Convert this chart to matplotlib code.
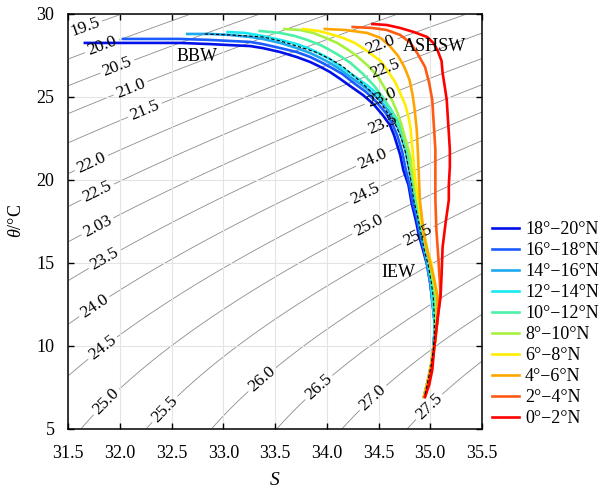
import numpy as np
import matplotlib
matplotlib.use("Agg")
import matplotlib.pyplot as plt

plt.rcParams["font.family"] = ["Liberation Serif", "DejaVu Serif"]
plt.rcParams["mathtext.fontset"] = "custom"
plt.rcParams["mathtext.rm"] = "Liberation Serif"
plt.rcParams["mathtext.it"] = "Liberation Serif:italic"

# latitude bands, legend order
bands = ["18°−20°N", "16°−18°N", "14°−16°N", "12°−14°N", "10°−12°N",
         "8°−10°N", "6°−8°N", "4°−6°N", "2°−4°N", "0°−2°N"]
colors = ["#0010e8", "#1a5cff", "#1ea8ee", "#18e8f0", "#4ef0a8",
          "#a8f040", "#ffee00", "#ffa500", "#ff5a14", "#ff0000"]

# salinity / potential temperature profiles
s_1820 = [31.66, 32.10, 32.58, 32.87, 33.06, 33.26, 33.38, 33.55, 33.71, 33.84,
          33.94, 34.03, 34.13, 34.24, 34.35, 34.45, 34.54, 34.61, 34.65, 34.71,
          34.74, 34.79, 34.82, 34.86, 34.89, 34.93, 34.97, 35.00, 35.02, 35.04,
          35.04, 35.03, 35.01, 34.98, 34.94]
t_1820 = [28.24, 28.24, 28.24, 28.17, 28.11, 28.05, 27.93, 27.69, 27.39, 27.09,
          26.79, 26.49, 26.07, 25.58, 25.10, 24.56, 23.90, 23.30, 22.69, 21.49,
          20.58, 19.68, 18.60, 17.58, 16.67, 15.77, 14.87, 13.78, 12.76, 11.56,
          10.64, 9.75, 8.84, 7.94, 6.92]
s_1618 = [32.03, 32.58, 32.87, 33.06, 33.26, 33.38, 33.55, 33.71, 33.84, 33.94,
          34.05, 34.15, 34.26, 34.38, 34.48, 34.57, 34.63, 34.68, 34.73, 34.76,
          34.80, 34.83, 34.87, 34.90, 34.94, 34.97, 35.00, 35.02, 35.04, 35.04,
          35.03, 35.01, 34.98, 34.94]
t_1618 = [28.48, 28.48, 28.42, 28.36, 28.30, 28.17, 27.93, 27.69, 27.39, 27.09,
          26.73, 26.37, 25.83, 25.28, 24.68, 24.02, 23.42, 22.69, 21.67, 20.71,
          19.68, 18.66, 17.69, 16.67, 15.77, 14.87, 13.78, 12.76, 11.56, 10.64,
          9.75, 8.84, 7.94, 6.92]
s_1416 = [32.65, 32.87, 33.06, 33.26, 33.38, 33.55, 33.71, 33.84, 33.94, 34.03,
          34.11, 34.24, 34.38, 34.50, 34.59, 34.66, 34.71, 34.76, 34.79, 34.82,
          34.85, 34.88, 34.91, 34.94, 34.97, 35.00, 35.02, 35.04, 35.04, 35.03,
          35.01, 34.98, 34.94]
t_1416 = [28.78, 28.78, 28.72, 28.60, 28.48, 28.24, 27.93, 27.63, 27.33, 27.03,
          26.73, 26.13, 25.52, 24.86, 24.20, 23.54, 22.81, 21.79, 20.83, 19.80,
          18.78, 17.75, 16.79, 15.89, 14.99, 13.90, 12.88, 11.67, 10.64, 9.75,
          8.84, 7.94, 6.92]
s_1214 = [33.04, 33.21, 33.38, 33.55, 33.71, 33.84, 33.94, 34.03, 34.11, 34.25,
          34.40, 34.52, 34.61, 34.68, 34.73, 34.77, 34.81, 34.83, 34.86, 34.89,
          34.92, 34.95, 34.98, 35.01, 35.02, 35.04, 35.04, 35.03, 35.01, 34.98,
          34.94]
t_1214 = [28.90, 28.84, 28.66, 28.42, 28.17, 27.87, 27.57, 27.27, 26.91, 26.31,
          25.64, 24.98, 24.32, 23.60, 22.87, 21.91, 20.89, 19.86, 18.78, 17.75,
          16.79, 15.89, 14.99, 13.90, 12.88, 11.67, 10.64, 9.75, 8.84, 7.94,
          6.92]
s_1012 = [33.35, 33.55, 33.69, 33.81, 33.94, 34.03, 34.13, 34.23, 34.35, 34.46,
          34.54, 34.61, 34.67, 34.72, 34.76, 34.79, 34.82, 34.84, 34.87, 34.90,
          34.93, 34.96, 34.99, 35.02, 35.04, 35.05, 35.05, 35.03, 35.01, 34.98,
          34.94]
t_1012 = [28.96, 28.84, 28.66, 28.42, 28.11, 27.81, 27.45, 27.03, 26.37, 25.64,
          24.98, 24.32, 23.60, 22.87, 22.03, 21.19, 20.28, 19.38, 18.48, 17.57,
          16.67, 15.77, 14.87, 13.84, 12.88, 11.67, 10.64, 9.75, 8.84, 7.94,
          6.92]
s_0810 = [33.59, 33.74, 33.87, 33.99, 34.10, 34.21, 34.29, 34.39, 34.49, 34.56,
          34.63, 34.68, 34.72, 34.75, 34.78, 34.81, 34.82, 34.85, 34.88, 34.91,
          34.94, 34.97, 35.00, 35.03, 35.06, 35.06, 35.05, 35.03, 35.01, 34.98,
          34.94]
t_0810 = [29.08, 29.02, 28.84, 28.54, 28.24, 27.81, 27.45, 26.91, 26.25, 25.52,
          24.80, 24.08, 23.36, 22.69, 22.03, 21.31, 20.58, 19.68, 18.78, 17.75,
          16.79, 15.89, 14.99, 13.90, 12.88, 11.56, 10.35, 9.75, 8.84, 7.94,
          6.92]
s_0608 = [33.77, 33.92, 34.03, 34.16, 34.27, 34.39, 34.52, 34.59, 34.66, 34.71,
          34.76, 34.79, 34.81, 34.82, 34.83, 34.84, 34.85, 34.87, 34.89, 34.91,
          34.94, 34.97, 35.01, 35.04, 35.07, 35.07, 35.05, 35.03, 35.01, 34.98,
          34.94]
t_0608 = [29.08, 28.96, 28.78, 28.54, 28.24, 27.75, 27.15, 26.55, 25.89, 25.22,
          24.50, 23.78, 23.12, 22.39, 21.79, 21.07, 20.28, 19.38, 18.48, 17.57,
          16.67, 15.77, 14.99, 13.96, 12.94, 11.56, 10.35, 9.75, 8.84, 7.94,
          6.92]
s_0406 = [33.98, 34.18, 34.39, 34.52, 34.61, 34.69, 34.75, 34.80, 34.83, 34.85,
          34.87, 34.88, 34.89, 34.90, 34.92, 34.94, 34.97, 35.00, 35.04, 35.07,
          35.07, 35.05, 35.03, 35.01, 34.98, 34.94]
t_0406 = [29.08, 29.02, 28.84, 28.54, 28.05, 27.45, 26.79, 26.01, 25.10, 24.20,
          23.00, 21.79, 20.28, 18.78, 17.69, 16.67, 15.77, 14.99, 13.96, 12.94,
          11.56, 10.35, 9.75, 8.84, 7.94, 6.92]
s_0204 = [34.25, 34.44, 34.58, 34.71, 34.81, 34.88, 34.95, 34.99, 35.02, 35.03,
          35.04, 35.05, 35.05, 35.05, 35.06, 35.07, 35.08, 35.09, 35.10, 35.07,
          35.04, 35.01, 34.98, 34.95]
t_0204 = [29.20, 29.14, 29.02, 28.72, 28.24, 27.57, 26.79, 25.83, 24.80, 23.78,
          22.81, 21.79, 20.77, 18.78, 16.97, 16.07, 15.17, 14.14, 13.18, 11.56,
          9.93, 8.54, 7.64, 6.92]
s_0002 = [34.44, 34.58, 34.71, 34.84, 34.97, 35.03, 35.07, 35.11, 35.12, 35.14,
          35.16, 35.17, 35.18, 35.19, 35.19, 35.18, 35.18, 35.15, 35.12, 35.11,
          35.10, 35.07, 35.04, 35.02, 34.99, 34.95]
t_0002 = [29.38, 29.32, 29.14, 28.90, 28.60, 28.24, 27.81, 27.15, 26.43, 25.64,
          24.80, 23.78, 22.81, 21.79, 20.77, 19.68, 18.78, 17.45, 15.95, 14.26,
          12.94, 11.56, 9.93, 8.54, 7.64, 6.92]
# mean profile (dashed)
s_mean = [32.82, 33.06, 33.38, 33.55, 33.71, 33.89, 34.03, 34.15, 34.24, 34.35,
          34.45, 34.53, 34.60, 34.67, 34.72, 34.76, 34.79, 34.82, 34.84, 34.88,
          34.91, 34.94, 34.98, 35.01, 35.03, 35.04, 35.04, 35.03, 35.01, 34.98,
          34.95]
t_mean = [28.78, 28.72, 28.60, 28.36, 28.05, 27.69, 27.27, 26.85, 26.37, 25.77,
          25.16, 24.56, 23.90, 23.24, 22.51, 21.67, 20.71, 19.74, 18.78, 17.75,
          16.79, 15.83, 14.87, 13.84, 12.88, 11.67, 10.64, 9.75, 8.84, 7.94,
          7.04]

profiles = [(s_1820, t_1820), (s_1618, t_1618), (s_1416, t_1416), (s_1214, t_1214),
            (s_1012, t_1012), (s_0810, t_0810), (s_0608, t_0608), (s_0406, t_0406),
            (s_0204, t_0204), (s_0002, t_0002)]

sigma_levels = [19.5, 20.0, 20.5, 21.0, 21.5, 22.0, 22.5, 23.0, 23.5, 24.0,
                24.5, 25.0, 25.5, 26.0, 26.5, 27.0, 27.5]

# where the isopycnal labels sit (S, theta)
label_pos = [(31.66, 29.20), (31.81, 28.30), (31.95, 27.21), (32.10, 25.52),
             (32.24, 24.20), (31.71, 21.19), (31.76, 19.56), (31.76, 17.45),
             (31.81, 15.64), (31.71, 12.75), (31.81, 10.04),
             (31.85, 6.73), (32.44, 6.13), (33.40, 7.76), (34.03, 6.73),
             (34.42, 7.04), (35.00, 6.25),
             (34.52, 28.11), (34.56, 26.73), (34.52, 25.10), (34.56, 23.00),
             (34.44, 21.31), (34.34, 19.50), (34.40, 17.27), (34.85, 16.97)]
typo_pos = (31.76, 17.45)


# sigma-t from UNESCO EOS-80 at surface pressure
def sigma_t(S, T):
    rho_w = (999.842594 + 6.793952e-2 * T - 9.095290e-3 * T**2 + 1.001685e-4 * T**3
             - 1.120083e-6 * T**4 + 6.536332e-9 * T**5)
    A = 8.24493e-1 - 4.0899e-3 * T + 7.6438e-5 * T**2 - 8.2467e-7 * T**3 + 5.3875e-9 * T**4
    B = -5.72466e-3 + 1.0227e-4 * T - 1.6546e-6 * T**2
    C = 4.8314e-4
    return rho_w + A * S + B * S**1.5 + C * S**2 - 1000.0


fig = plt.figure(figsize=(6.02, 4.93), dpi=100)
ax = fig.add_axes([0.1135, 0.1304, 0.687, 0.8418])

ax.grid(True, color="#e4e4e4", lw=0.8, zorder=0)

sg, tg = np.meshgrid(np.linspace(31.5, 35.5, 300), np.linspace(5, 30, 300))
cs = ax.contour(sg, tg, sigma_t(sg, tg), levels=sigma_levels, colors="#8c8c8c",
                linewidths=0.6, zorder=1)
labels = ax.clabel(cs, manual=label_pos, fmt="%.1f", fontsize=12.5, inline=True,
                   inline_spacing=3, colors="black")
for lab in labels:
    lab.set_zorder(6)
# the original figure has a misprinted label on the left side
best = min(labels, key=lambda t: (t.get_position()[0] - typo_pos[0])**2
           + ((t.get_position()[1] - typo_pos[1]) / 6)**2)
best.set_text("2.03")

for (s, t), c, name in zip(profiles, colors, bands):
    ax.plot(s, t, color=c, lw=1.9, label=name, zorder=3, solid_joinstyle="round")
ax.plot(s_mean, t_mean, color="black", lw=0.8, ls=(0, (3, 2)), zorder=4)

ax.text(32.74, 27.40, "BBW", fontsize=13, ha="center", va="center")
ax.text(35.04, 28.00, "ASHSW", fontsize=13, ha="center", va="center")
ax.text(34.69, 14.42, "IEW", fontsize=13, ha="center", va="center")

ax.set_xlim(31.5, 35.5)
ax.set_ylim(5, 30)
ax.set_xticks(np.arange(31.5, 35.51, 0.5))
ax.set_xticklabels([f"{v:.1f}" for v in np.arange(31.5, 35.51, 0.5)])
ax.set_yticks([5, 10, 15, 20, 25, 30])
ax.tick_params(direction="in", top=True, right=True, length=4, width=1,
               labelsize=13)
ax.tick_params(axis="x", pad=12)
ax.tick_params(axis="y", pad=10)
for sp in ax.spines.values():
    sp.set_linewidth(1.1)

ax.set_xlabel("$\\mathit{S}$", fontsize=14, labelpad=7)
ax.set_ylabel("$\\mathit{\\theta}$/°C", fontsize=13, labelpad=8)

ax.legend(loc="lower left", bbox_to_anchor=(0.8173, 0.1339),
          bbox_transform=fig.transFigure, frameon=False, fontsize=13,
          handlelength=1.5, handletextpad=0.33, labelspacing=0.22,
          borderpad=0, borderaxespad=0)

fig.savefig("out.png", dpi=100)
